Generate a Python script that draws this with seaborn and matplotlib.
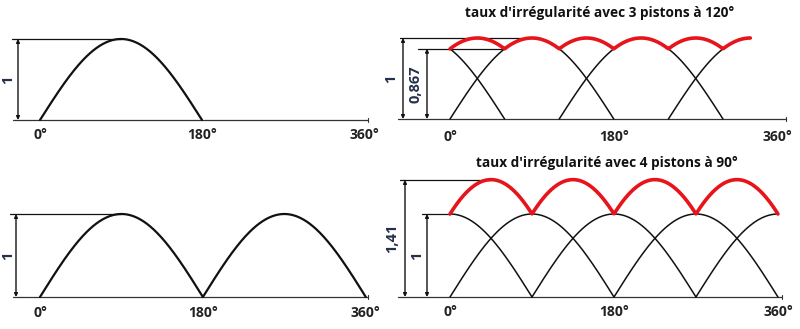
import numpy as np
import pandas as pd
import matplotlib
matplotlib.use("Agg")
import matplotlib.pyplot as plt
import seaborn as sns

# ---------------- data ----------------
tick_positions = [0, 180, 360]
tick_labels = ["0°", "180°", "360°"]

phases_single = [0]                 # one piston, half-wave
phases_double = [0, 180]            # two half-waves
phases_three = [0, 120, 240]        # 3 pistons at 120°
phases_four = [0, 90, 180, 270]     # 4 pistons at 90°

level_three_min = 0.867
level_four_max = 1.41
red_end_three = 330

titles = ["taux d'irrégularité avec 3 pistons à 120°",
          "taux d'irrégularité avec 4 pistons à 90°"]
dim_labels_tl = ["1"]
dim_labels_tr = ["1", "0,867"]
dim_labels_bl = ["1"]
dim_labels_br = ["1,41", "1"]

# ---------------- style ----------------
sns.set_theme(style="white")
plt.rcParams['font.family'] = ['Open Sans', 'DejaVu Sans']

W, H = 800, 329
fig = plt.figure(figsize=(8.0, 3.29), dpi=100)
fig.patch.set_facecolor("white")

BLACK = "#111111"
RED = "#e8141c"
LAB = "#24304a"


def make_ax(L, R, T, B, x0, sx, y0, sy):
    ax = fig.add_axes([L / W, 1 - B / H, (R - L) / W, (B - T) / H])
    ax.set_xlim((L - x0) / sx, (R - x0) / sx)
    ax.set_ylim((y0 - B) / sy, (y0 - T) / sy)
    ax.set_axis_off()
    ax.patch.set_alpha(0)
    return ax


def px2deg(px, x0, sx):
    return (px - x0) / sx


def halfwave_pieces(phi, n=200):
    """positive half-wave of sin(x-phi) over [phi, phi+180], wrapped to [0,360]"""
    pieces = []
    x = np.linspace(phi, phi + 180, n)
    y = np.sin(np.radians(x - phi))
    xw = np.where(x > 360, x - 360, x)
    m1 = x <= 360
    if m1.sum() > 1:
        pieces.append((xw[m1], y[m1]))
    m2 = x >= 360
    if m2.sum() > 1:
        pieces.append((xw[m2], y[m2]))
    return pieces


def line(ax, x, y, color=BLACK, lw=1.0, z=2):
    df = pd.DataFrame({"x": x, "y": y})
    sns.lineplot(data=df, x="x", y="y", ax=ax, color=color, lw=lw,
                 estimator=None, sort=False, zorder=z)


def hline(ax, x1, x2, yv, lw=0.9):
    line(ax, [x1, x2], [yv, yv], lw=lw)


def arrow(ax, x, y1, y2):
    ax.annotate("", xy=(x, y1), xytext=(x, y2),
                arrowprops=dict(arrowstyle="<|-|>", lw=1.0, color=BLACK,
                                mutation_scale=5, shrinkA=0, shrinkB=0))


def ticks(ax, ylab):
    for p, t in zip(tick_positions, tick_labels):
        ax.text(p, ylab, t, ha="center", va="center", fontsize=10,
                fontweight="bold", color="#222222")


def vlabel(ax, x, y, s):
    ax.text(x, y, s, rotation=90, ha="center", va="center", fontsize=10.5,
            fontweight="bold", color=LAB)


def baseline(ax, xa, xb):
    line(ax, [xa, xb], [0, 0], color="#333333", lw=0.9)
    line(ax, [xb, xb], [-0.02, 0.03], color="#333333", lw=0.8)


# ---------------- top-left ----------------
x0, sx, y0, sy = 40, 0.9, 120, 81
ax = make_ax(0, 390, 20, 150, x0, sx, y0, sy)
baseline(ax, px2deg(13, x0, sx), px2deg(368, x0, sx))
for phi in phases_single:
    for xx, yy in halfwave_pieces(phi):
        line(ax, xx, yy, lw=1.6)
hline(ax, px2deg(12, x0, sx), 90, 1.0)
arrow(ax, px2deg(18, x0, sx), 0, 1.0)
vlabel(ax, px2deg(8, x0, sx), 0.5, dim_labels_tl[0])
ticks(ax, -0.185)

# ---------------- bottom-left ----------------
x0, sx, y0, sy = 40, 0.905, 297, 83
ax = make_ax(0, 390, 170, 329, x0, sx, y0, sy)
baseline(ax, px2deg(13, x0, sx), px2deg(368, x0, sx))
for phi in phases_double:
    for xx, yy in halfwave_pieces(phi):
        line(ax, xx, yy, lw=1.6)
hline(ax, px2deg(10, x0, sx), 90, 1.0)
arrow(ax, px2deg(16, x0, sx), 0, 1.0)
vlabel(ax, px2deg(8, x0, sx), 0.5, dim_labels_bl[0])
ticks(ax, -0.19)

# ---------------- top-right : 3 pistons ----------------
x0, sx, y0, sy = 450, 0.91, 119, 81
ax = make_ax(385, 800, 20, 150, x0, sx, y0, sy)
baseline(ax, px2deg(398, x0, sx), px2deg(786, x0, sx))
for phi in phases_three:
    for xx, yy in halfwave_pieces(phi):
        m = yy <= level_three_min + 0.002
        idx = np.where(m)[0]
        if len(idx) == 0:
            continue
        splits = np.split(idx, np.where(np.diff(idx) > 1)[0] + 1)
        for s in splits:
            if len(s) > 1:
                line(ax, xx[s], yy[s], lw=1.1)
xr = np.linspace(0, red_end_three, 600)
yr = np.max([np.abs(np.sin(np.radians(xr - p))) for p in phases_three], axis=0)
line(ax, xr, yr, color=RED, lw=2.6, z=4)
hline(ax, px2deg(400, x0, sx), px2deg(522, x0, sx), 1.0)
hline(ax, px2deg(418, x0, sx), 58, level_three_min)
arrow(ax, px2deg(403, x0, sx), 0, 1.0)
arrow(ax, px2deg(427, x0, sx), 0, level_three_min)
vlabel(ax, px2deg(391, x0, sx), 0.5, dim_labels_tr[0])
vlabel(ax, px2deg(415, x0, sx), level_three_min / 2, dim_labels_tr[1])
ticks(ax, -0.22)

# ---------------- bottom-right : 4 pistons ----------------
x0, sx, y0, sy = 450, 0.911, 297, 83
ax = make_ax(385, 800, 170, 329, x0, sx, y0, sy)
baseline(ax, px2deg(398, x0, sx), px2deg(782, x0, sx))
for phi in phases_four:
    for xx, yy in halfwave_pieces(phi):
        line(ax, xx, yy, lw=1.1)
xr = np.linspace(0, 360, 800)
yr = np.sum([np.clip(np.sin(np.radians(xr - p)), 0, None) for p in phases_four], axis=0)
line(ax, xr, yr, color=RED, lw=2.6, z=4)
hline(ax, px2deg(400, x0, sx), 45, level_four_max)
hline(ax, px2deg(422, x0, sx), 0, 1.0)
arrow(ax, px2deg(405, x0, sx), 0, level_four_max)
arrow(ax, px2deg(427, x0, sx), 0, 1.0)
vlabel(ax, px2deg(392, x0, sx), level_four_max / 2, dim_labels_br[0])
vlabel(ax, px2deg(417, x0, sx), 0.5, dim_labels_br[1])
ticks(ax, -0.18)

# ---------------- titles ----------------
fig.text(600 / W, 1 - 13 / H, titles[0], ha="center", va="center",
         fontsize=9.8, fontweight="bold", color="#111111")
fig.text(607 / W, 1 - 163 / H, titles[1], ha="center", va="center",
         fontsize=9.8, fontweight="bold", color="#111111")

fig.savefig("out.png", dpi=100, facecolor="white")
